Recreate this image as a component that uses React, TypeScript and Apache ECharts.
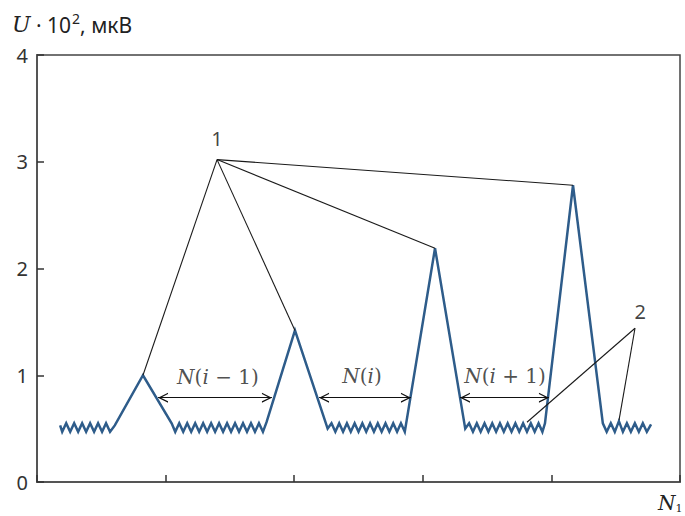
import React, { useEffect, useRef } from "react";
import * as echarts from "echarts";

// Signal trace U(N): [N, U·10²]
const signal: [number, number][] = [
  [1.8, 0.53], [1.96, 0.47], [2.27, 0.55], [2.58, 0.47], [2.89, 0.55], [3.2, 0.47], [3.51, 0.55],
  [3.82, 0.47], [4.13, 0.55], [4.44, 0.47], [4.75, 0.55], [5.06, 0.47], [5.37, 0.55], [5.68, 0.47],
  [6.05, 0.53],
  [8.24, 1.0],
  [10.47, 0.55], [10.75, 0.47], [11.06, 0.55], [11.37, 0.47], [11.68, 0.55], [11.99, 0.47], [12.3, 0.55],
  [12.61, 0.47], [12.92, 0.55], [13.23, 0.47], [13.54, 0.55], [13.85, 0.47], [14.16, 0.55], [14.47, 0.47],
  [14.78, 0.55], [15.09, 0.47], [15.4, 0.55], [15.71, 0.47], [16.02, 0.55], [16.33, 0.47], [16.64, 0.55],
  [16.95, 0.47], [17.26, 0.55], [17.57, 0.47], [17.85, 0.56],
  [20.06, 1.42],
  [22.6, 0.5], [22.9, 0.55], [23.2, 0.47], [23.5, 0.55], [23.8, 0.47], [24.1, 0.55], [24.4, 0.47],
  [24.7, 0.55], [25.0, 0.47], [25.3, 0.55], [25.6, 0.47], [25.9, 0.55], [26.2, 0.47], [26.5, 0.55],
  [26.8, 0.47], [27.1, 0.55], [27.4, 0.47], [27.7, 0.55], [28.0, 0.47], [28.3, 0.55], [28.6, 0.47],
  [30.95, 2.19],
  [33.3, 0.5], [33.6, 0.55], [33.9, 0.47], [34.2, 0.55], [34.5, 0.47], [34.8, 0.55], [35.1, 0.47],
  [35.4, 0.55], [35.7, 0.47], [36.0, 0.55], [36.3, 0.47], [36.6, 0.55], [36.9, 0.47], [37.2, 0.55],
  [37.5, 0.47], [37.8, 0.55], [38.1, 0.47], [38.4, 0.55], [38.7, 0.47], [39.0, 0.55], [39.3, 0.47],
  [39.5, 0.55],
  [41.68, 2.78],
  [44.0, 0.55], [44.3, 0.47], [44.62, 0.55], [44.93, 0.47], [45.25, 0.57], [45.56, 0.47], [45.87, 0.55],
  [46.18, 0.47], [46.49, 0.55], [46.8, 0.47], [47.11, 0.55], [47.42, 0.47], [47.75, 0.54],
];

// Callout 1: anchor and the peak tops it points to
const callout1Anchor: [number, number] = [14.0, 3.02];
const callout1Targets: [number, number][] = [
  [8.24, 1.0], [20.06, 1.42], [30.95, 2.19], [41.68, 2.78],
];
// Callout 2: anchor and the noise points it points to
const callout2Anchor: [number, number] = [46.5, 1.44];
const callout2Targets: [number, number][] = [
  [38.1, 0.56], [45.26, 0.58],
];

// Interval arrows: [start N, end N, level]
const arrowSpans: [number, number, number][] = [
  [9.41, 18.27, 0.79],
  [21.93, 29.08, 0.79],
  [32.89, 39.81, 0.79],
];
// Interval labels: [center N, level]
const arrowLabelPos: [number, number][] = [
  [14.07, 0.98],
  [25.27, 0.99],
  [36.39, 0.99],
];
const arrowLabelSuffix = [" − 1", "", " + 1"];

const calloutLabels: [number, number, string][] = [
  [14.0, 3.22, "1"],
  [46.9, 1.6, "2"],
];

const yTickValues = [0, 1, 2, 3, 4];

// open chevron whose tip sits at the symbol centre (invisible point extends the box)
const chevron = "path://M50,0 L100,100 L86,100 L50,28 L14,100 L0,100 Z M50,-100 L50.01,-100 L50,-100 Z";

export default function App() {
  const ref = useRef<HTMLDivElement>(null);
  useEffect(() => {
    if (!ref.current) return;
    const chart = echarts.init(ref.current, null, { renderer: "svg" });
    const serif = "DejaVu Serif";
    const sans = "Noto Sans";
    chart.setOption({
      animation: false,
      backgroundColor: "#fff",
      grid: {
        left: 37, right: 5, top: 55, bottom: 34,
        show: true, borderColor: "#444", borderWidth: 1.5, backgroundColor: "transparent",
      },
      xAxis: {
        type: "value", min: 0, max: 50, interval: 10,
        axisLabel: { show: false },
        axisTick: { show: true, inside: true, length: 7, lineStyle: { color: "#333", width: 1.5 } },
        axisLine: { show: true, lineStyle: { color: "#555", width: 2 } },
        splitLine: { show: false },
      },
      yAxis: {
        type: "value", min: yTickValues[0], max: yTickValues[yTickValues.length - 1], interval: 1,
        axisLabel: { fontSize: 20, color: "#333", fontFamily: sans, margin: 9 },
        axisTick: { show: true, inside: true, length: 7, lineStyle: { color: "#333", width: 1.5 } },
        axisLine: { show: true, lineStyle: { color: "#555", width: 2 } },
        splitLine: { show: false },
      },
      graphic: [
        {
          type: "text", left: 12, top: 11,
          style: {
            text: "{it|U}{n| · 10}{sup|2}{n|, }{s|мкВ}",
            rich: {
              it: { fontFamily: serif, fontStyle: "italic", fontSize: 22, fill: "#222", verticalAlign: "bottom" },
              n: { fontFamily: sans, fontSize: 21, fill: "#222", verticalAlign: "bottom" },
              sup: { fontFamily: sans, fontSize: 14, fill: "#222", padding: [0, 0, 10, 1], verticalAlign: "bottom" },
              s: { fontFamily: sans, fontSize: 21, fill: "#222", verticalAlign: "bottom" },
            },
          },
        },
        {
          type: "text", left: 658, top: 493,
          style: {
            text: "{it|N}{sub|1}",
            rich: {
              it: { fontFamily: serif, fontStyle: "italic", fontSize: 20, fill: "#222" },
              sub: { fontFamily: serif, fontSize: 11, fill: "#222", padding: [10, 0, 0, 0] },
            },
          },
        },
      ],
      series: [
        {
          type: "line",
          data: signal,
          showSymbol: false,
          symbol: "none",
          lineStyle: { color: "#2E5C8A", width: 2.5, join: "miter" },
          z: 3,
        },
        {
          type: "line",
          data: [],
          markLine: {
            silent: true,
            symbol: ["none", "none"],
            lineStyle: { color: "#1a1a1a", width: 1.1, type: "solid" },
            label: { show: false },
            data: [
              ...callout1Targets.map((p) => [{ coord: callout1Anchor }, { coord: p }]),
              ...callout2Targets.map((p) => [{ coord: callout2Anchor }, { coord: p }]),
            ],
          },
          z: 4,
        },
        {
          type: "line",
          data: [],
          markLine: {
            silent: true,
            symbol: [chevron, chevron],
            symbolSize: [10, 20],
            itemStyle: { color: "#111" },
            lineStyle: { color: "#111", width: 1.2, type: "solid" },
            label: { show: false },
            data: arrowSpans.map(([a, b, y]) => [{ coord: [a, y] }, { coord: [b, y] }]),
          },
          z: 4,
        },
        {
          type: "scatter",
          symbolSize: 0,
          data: arrowLabelPos.map(([x, y], i) => [x, y, arrowLabelSuffix[i]]),
          label: {
            show: true,
            position: "inside",
            formatter: (p: any) => "{it|N}{up|(}{it|i}{up|" + p.data[2] + ")}",
            rich: {
              it: { fontFamily: serif, fontStyle: "italic", fontSize: 20, color: "#222" },
              up: { fontFamily: serif, fontSize: 20, color: "#222" },
            },
          },
          z: 5,
        },
        {
          type: "scatter",
          symbolSize: 0,
          data: calloutLabels,
          label: {
            show: true,
            position: "inside",
            formatter: (p: any) => p.data[2],
            fontFamily: sans, fontSize: 20, color: "#111",
          },
          z: 5,
        },
      ],
    });
    return () => chart.dispose();
  }, []);
  return (
    <div
      ref={ref}
      style={{ position: "absolute", left: 0, top: 0, width: 685, height: 516, background: "#fff" }}
    />
  );
}
